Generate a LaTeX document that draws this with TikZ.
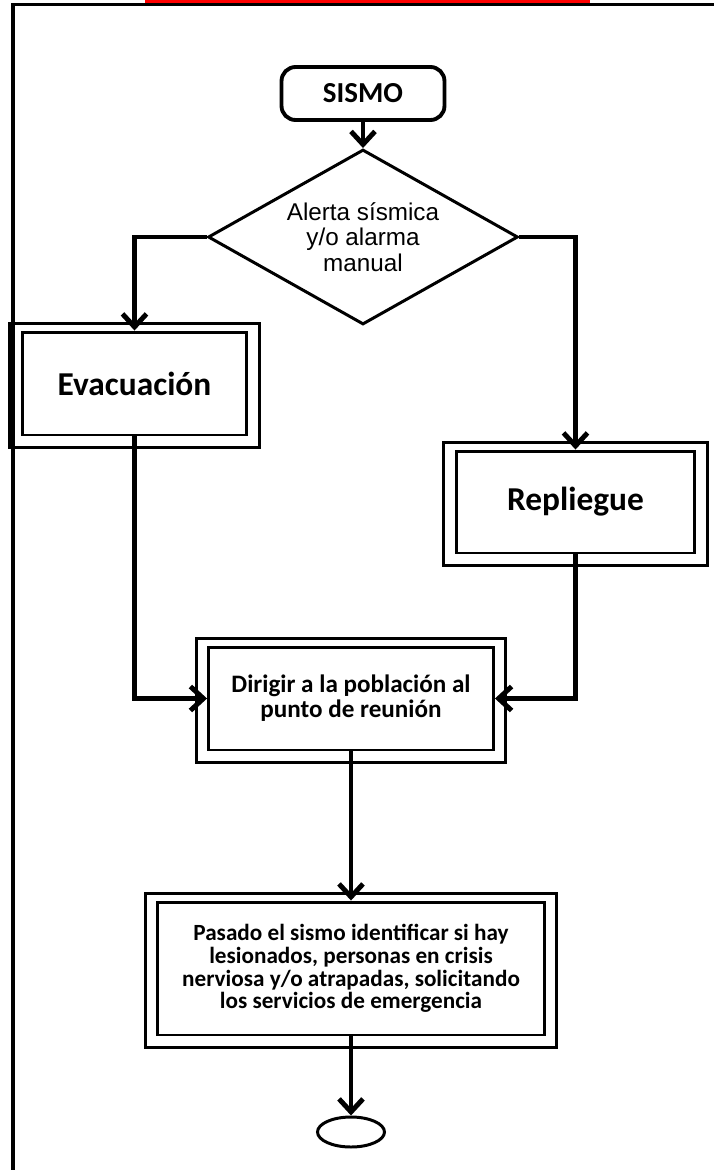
\documentclass[tikz,border=0pt]{standalone}
\usepackage{fontspec}
\setmainfont{Carlito}
\newfontfamily\arialfont{Liberation Sans}
\usetikzlibrary{shapes.geometric,arrows.meta,calc}
\begin{document}
\begin{tikzpicture}
  [x=0.02cm,y=-0.02cm,
   every node/.style={draw,line width=1.7pt,align=center,inner sep=0pt},
   box/.style={rectangle,font=\bfseries},
   conn/.style={line width=2.8pt,-{Straight Barb[length=0.26cm,width=0.48cm]}}]
  \useasboundingbox (0,0) rectangle (714,1170);
  % page frame
  \fill[red] (145,0) rectangle (590,3);
  \draw[line width=1.9pt] (13,1170) -- (13,4.5) -- (714,4.5);

  \node[box,rounded corners=8pt,line width=2.2pt,minimum width=3.26cm,minimum height=1.06cm,
    font=\bfseries\fontsize{16.5}{18}\selectfont] (sismo) at (363,93.5) {SISMO};
  \node[diamond,aspect=1.79,minimum width=6.2cm,minimum height=3.5cm,
    font=\arialfont\fontsize{13.8}{14.4}\selectfont] (alerta) at (363,237)
    {Alerta sísmica\\y/o alarma\\manual};
  \node[box,minimum width=4.5cm,minimum height=2.06cm,
    font=\bfseries\fontsize{19}{20}\selectfont] (evac) at (134.5,383.5) {Evacuación};
  \node[box,minimum width=4.78cm,minimum height=2.04cm,
    font=\bfseries\fontsize{19}{20}\selectfont] (repl) at (575.5,502) {Repliegue};
  \node[box,minimum width=5.7cm,minimum height=2.06cm,
    font=\bfseries\fontsize{14.3}{14.2}\selectfont] (dirigir) at (351,698.5)
    {Dirigir a la población al\\punto de reunión};
  \node[box,minimum width=7.74cm,minimum height=2.66cm,
    font=\bfseries\fontsize{13.2}{13}\selectfont] (pasado) at (351,968.5)
    {Pasado el sismo identificar si hay\\lesionados, personas en crisis\\nerviosa y/o atrapadas, solicitando\\los servicios de emergencia};
  \node[ellipse,minimum width=1.34cm,minimum height=0.6cm] (fin) at (351,1132) {};

  % outer borders
  \foreach \n in {evac,repl,dirigir,pasado}
    \draw[line width=1.7pt] ($(\n.north west)+(-11,-7)$) rectangle ($(\n.south east)+(11,11)$);

  \draw[conn] (sismo) -- (alerta);
  \draw[conn] (alerta.west) -| (evac.north);
  \draw[conn] (alerta.east) -| (repl.north);
  \draw[conn] (evac.south) |- (dirigir.west);
  \draw[conn] (repl.south) |- (dirigir.east);
  \draw[conn] (dirigir) -- (pasado);
  \draw[conn] (pasado) -- (fin);
\end{tikzpicture}
\end{document}
